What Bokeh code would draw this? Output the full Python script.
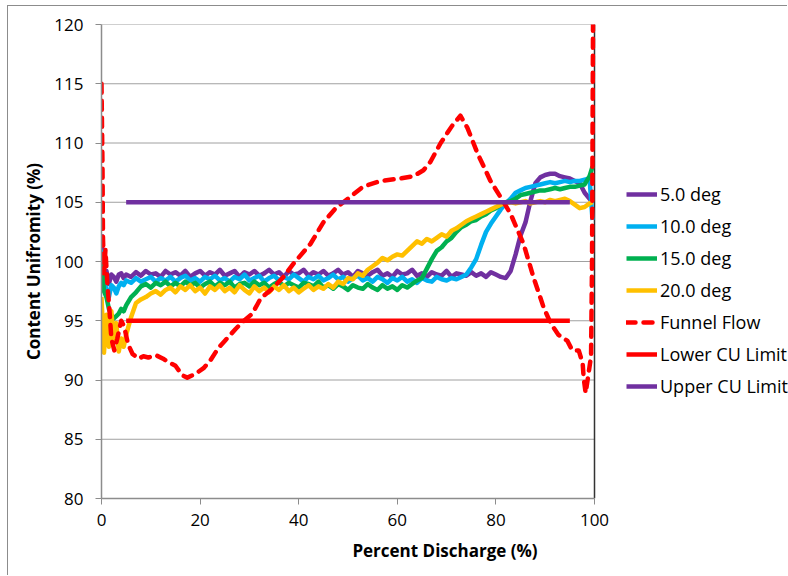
from bokeh.plotting import figure
from bokeh.models import Legend, LegendItem, Span, FixedTicker
from bokeh.embed import file_html
from bokeh.resources import INLINE

# ---------------- data ----------------
pct = [0, 0.5, 1, 1.5, 2, 2.5, 3, 3.5, 4, 4.5] + list(range(5, 100)) + [99.6]

deg5 = [102.3, 98.2, 99.2, 98.1, 98.9, 98.7, 98.3, 98.9, 99.0, 98.6,
        98.9, 98.7, 99.1, 98.8, 99.2, 98.9, 99.0, 98.7, 99.2, 98.9,
        99.1, 98.8, 99.2, 98.7, 99.0, 99.2, 98.8, 99.1, 98.9, 99.3,
        98.8, 99.0, 99.2, 98.7, 99.1, 98.9, 99.2, 98.8, 99.0, 99.3,
        98.9, 99.1, 98.7, 99.2, 98.9, 99.0, 99.3, 98.8, 99.1, 98.9,
        99.2, 98.8, 99.0, 99.3, 98.9, 99.1, 98.7, 99.2, 99.0, 98.8,
        99.1, 99.3, 98.8, 99.0, 98.7, 99.2, 98.9, 99.0, 99.3, 98.8,
        99.0, 98.7, 99.1, 98.9, 98.8, 99.2, 98.7, 99.0, 98.9, 98.8,
        99.1, 98.8, 99.0, 98.7, 99.1, 98.9, 98.7, 98.6, 99.2, 100.6,
        102.2, 103.3, 105.1, 106.6, 107.1, 107.3, 107.4, 107.4, 107.2, 107.1,
        107.0, 106.8, 106.6, 105.8, 105.3, 105.0]

deg10 = [101.0, 98.5, 97.6, 97.0, 98.0, 97.8, 97.3, 97.9, 98.2, 98.0,
         98.4, 98.2, 98.6, 98.3, 98.5, 98.7, 98.3, 98.6, 98.4, 98.7,
         98.3, 98.6, 98.8, 98.4, 98.6, 98.3, 98.7, 98.5, 98.8, 98.4,
         98.6, 98.3, 98.7, 98.5, 98.9, 98.4, 98.6, 98.8, 98.3, 98.6,
         98.8, 98.4, 98.7, 98.5, 98.9, 98.6, 98.3, 98.7, 98.5, 98.8,
         98.4, 98.6, 98.9, 98.5, 98.7, 98.3, 98.6, 98.8, 98.4, 98.6,
         98.3, 98.7, 98.5, 98.2, 98.6, 98.4, 98.7, 98.3, 98.5, 98.2,
         98.6, 98.4, 98.3, 98.7, 98.5, 98.4, 98.6, 98.5, 98.7, 98.9,
         99.5, 100.2, 101.4, 102.5, 103.2, 103.8, 104.4, 104.9, 105.3, 105.8,
         106.0, 106.2, 106.3, 106.4, 106.5, 106.6, 106.7, 106.6, 106.7, 106.8,
         106.7, 106.8, 106.8, 106.9, 107.0, 103.5]

deg15 = [100.5, 97.5, 97.0, 96.0, 95.5, 95.2, 95.4, 95.6, 96.0, 95.8,
         96.3, 97.0, 97.4, 97.9, 98.1, 97.8, 98.2, 98.0, 98.3, 97.9,
         98.2, 97.9, 98.3, 98.0, 98.2, 97.8, 98.1, 98.3, 97.9, 98.2,
         98.0, 98.3, 97.8, 98.1, 98.2, 97.9, 98.3, 98.0, 98.2, 97.8,
         98.1, 98.3, 97.9, 98.2, 98.0, 97.8, 98.2, 98.1, 97.9, 98.3,
         97.8, 98.0, 97.7, 98.1, 97.9, 97.6, 98.0, 97.8, 97.7, 98.1,
         97.8, 97.6, 98.0, 97.7, 97.9, 97.6, 98.0, 97.8, 98.1, 98.4,
         98.6, 99.4, 100.2, 100.9, 101.2, 101.7, 102.0, 102.5, 102.9, 103.1,
         103.4, 103.5, 103.8, 104.0, 104.3, 104.5, 104.8, 105.0, 105.1, 105.3,
         105.6, 105.7, 105.8, 105.9, 106.0, 106.0, 106.1, 106.2, 106.1, 106.2,
         106.3, 106.3, 106.4, 106.5, 107.2, 108.0]

deg20 = [97.0, 92.3, 95.5, 92.8, 95.8, 93.2, 94.8, 92.4, 93.5, 92.8,
         93.8, 95.3, 96.5, 96.8, 97.0, 97.3, 97.5, 97.2, 97.6, 97.8,
         97.4, 97.9, 97.6, 98.0, 97.5, 97.8, 97.3, 97.9, 97.6, 98.0,
         97.5, 97.8, 97.4, 98.0, 97.6, 97.3, 97.9, 97.5, 97.8, 97.4,
         97.9, 97.6, 98.0, 97.5, 97.8, 97.4, 97.7, 98.0, 97.6, 97.9,
         97.7, 98.1, 97.8, 98.3, 98.1, 98.6, 98.5, 99.0, 98.8, 99.3,
         99.6, 99.9, 100.3, 100.1, 100.4, 100.6, 100.5, 100.9, 101.3, 101.7,
         101.5, 101.9, 101.7, 102.0, 102.3, 102.1, 102.6, 102.8, 103.1, 103.4,
         103.6, 103.8, 104.0, 104.2, 104.4, 104.6, 104.8, 104.9, 105.0, 104.9,
         105.0, 105.1, 104.9, 105.0, 105.1, 105.0, 105.2, 105.1, 105.2, 105.3,
         105.1, 104.8, 104.5, 104.6, 104.9, 105.0]

funnel_x = [0, 0.2, 0.3, 0.5, 0.8, 1.2, 1.6, 2.0, 2.6, 3.2, 4.0, 4.6, 5.4, 6.3,
            7.5, 8.5, 9.5, 11, 12.5, 13.6, 15, 16.4, 17.4, 19, 20.7, 22, 23.7,
            25, 27.2, 28.6, 30.6, 32.3, 34.9, 36.9, 38.9, 42.4, 45, 47.5, 50,
            53, 56.6, 60.6, 63.3, 65.3, 66.7, 68.8, 71.2, 72.8, 74.2, 76.3,
            78.9, 81, 83, 85.6, 87.6, 89.7, 91.1, 92.7, 94.5, 95.5, 96.8,
            97.6, 97.8, 98.2, 98.6, 99.3, 99.5, 99.6, 99.7]
funnel = [115.0, 108.0, 102.0, 99.0, 101.0, 98.0, 96.0, 93.5, 92.5, 93.5, 95.0,
          94.5, 93.0, 92.2, 91.8, 92.0, 91.9, 92.1, 91.8, 91.5, 91.2, 90.4,
          90.2, 90.5, 91.0, 91.6, 92.7, 93.3, 94.3, 94.9, 95.6, 96.9, 97.8,
          98.7, 99.8, 101.5, 103.3, 104.5, 105.3, 106.3, 106.8, 107.0, 107.2,
          107.7, 108.4, 110.0, 111.5, 112.3, 111.3, 109.1, 106.8, 105.4, 104.0,
          101.5, 98.7, 96.1, 94.8, 93.8, 93.3, 92.5, 92.5, 91.4, 90.2, 88.9,
          90.0, 92.0, 100.0, 110.0, 120.0]

limit_x = [5, 95]
lower_cu = [95, 95]
upper_cu = [105, 105]

y_ticks = [80, 85, 90, 95, 100, 105, 110, 115, 120]
x_ticks = [0, 20, 40, 60, 80, 100]
x_min, x_max = 0, 100

FONT = "Open Sans"
GRAY = "#8c8c8c"

# frame spans to the right edge so the legend can sit inside it;
# the x range is extended so that 0..100 covers the original plot area
FRAME_LEFT = 93
FIG_W = 780
PLOT_W = 493  # pixels for 0..100
x_end = x_max * (FIG_W - FRAME_LEFT) / PLOT_W

p = figure(width=FIG_W, height=570, x_range=(x_min, x_end), y_range=(80, 120),
           output_backend="svg", toolbar_location=None,
           min_border_left=FRAME_LEFT, min_border_right=0, min_border_top=18,
           min_border_bottom=78)
p.styles = {"margin-left": "7px", "margin-top": "5px",
            "border-left": "1px solid #8c8c8c", "border-top": "1px solid #8c8c8c"}
p.outline_line_color = None
p.background_fill_color = "white"
p.border_fill_color = "white"

p.xgrid.grid_line_color = None
p.ygrid.grid_line_color = None
# horizontal gridlines limited to the 0..100 plot area
p.segment(x0=[x_min] * len(y_ticks), x1=[x_max] * len(y_ticks), y0=y_ticks, y1=y_ticks,
          line_color="#a0a0a0", line_width=1)

p.yaxis.ticker = FixedTicker(ticks=y_ticks)
p.xaxis.ticker = FixedTicker(ticks=x_ticks)
p.xaxis.bounds = (x_min, x_max)
for ax in (p.xaxis[0], p.yaxis[0]):
    ax.axis_line_color = GRAY
    ax.axis_line_width = 1.5
    ax.major_tick_line_color = GRAY
    ax.major_tick_out = 6
    ax.major_tick_in = 0
    ax.minor_tick_line_color = None
    ax.major_label_text_font = FONT
    ax.major_label_text_font_size = "17px"
    ax.major_label_text_color = "black"
    ax.axis_label_text_font = FONT
    ax.axis_label_text_font_size = "17px"
    ax.axis_label_text_font_style = "bold"
    ax.axis_label_text_color = "black"
p.yaxis.axis_label = "Content Unifromity (%)"
p.xaxis.axis_label = "Percent Discharge (%)"
p.yaxis.major_label_standoff = 12
p.xaxis.major_label_standoff = 9
p.yaxis.axis_label_standoff = 6
p.xaxis.axis_label_standoff = 10

p.segment(x0=[x_max], x1=[x_max], y0=[80], y1=[120], line_color="#333333", line_width=1.5)

LW = 4.5
r5 = p.line(pct, deg5, line_color="#7030A0", line_width=LW, line_join="round")
r10 = p.line(pct, deg10, line_color="#00B0F0", line_width=LW, line_join="round")
r15 = p.line(pct, deg15, line_color="#00B050", line_width=LW, line_join="round")
r20 = p.line(pct, deg20, line_color="#FFC000", line_width=LW, line_join="round")
rf = p.line(funnel_x, funnel, line_color="#FF0000", line_width=LW, line_dash="9 8",
            line_cap="round", line_join="round")
rl = p.line(limit_x, lower_cu, line_color="#FF0000", line_width=LW)
ru = p.line(limit_x, upper_cu, line_color="#7030A0", line_width=LW)

legend = Legend(items=[
    LegendItem(label="5.0 deg", renderers=[r5]),
    LegendItem(label="10.0 deg", renderers=[r10]),
    LegendItem(label="15.0 deg", renderers=[r15]),
    LegendItem(label="20.0 deg", renderers=[r20]),
    LegendItem(label="Funnel Flow", renderers=[rf]),
    LegendItem(label="Lower CU Limit", renderers=[rl]),
    LegendItem(label="Upper CU Limit", renderers=[ru]),
], location=(525, 100))
legend.border_line_color = None
legend.background_fill_alpha = 0
legend.padding = 0
legend.margin = 0
legend.spacing = 8
legend.glyph_width = 31
legend.glyph_height = 20
legend.label_height = 20
legend.label_standoff = 3
legend.label_text_font = FONT
legend.label_text_font_size = "18px"
legend.label_text_color = "black"
p.add_layout(legend, "center")

open("out.html", "w").write(file_html(p, INLINE))
